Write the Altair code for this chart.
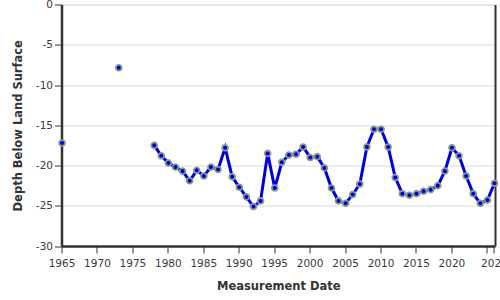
import altair as alt
import pandas as pd

years = [1965, 1973, 1978, 1979, 1980, 1981, 1982, 1983, 1984, 1985, 1986, 1987,
         1988, 1989, 1990, 1991, 1992, 1993, 1994, 1995, 1996, 1997, 1998, 1999,
         2000, 2001, 2002, 2003, 2004, 2005, 2006, 2007, 2008, 2009, 2010, 2011,
         2012, 2013, 2014, 2015, 2016, 2017, 2018, 2019, 2020, 2021, 2022, 2023,
         2024, 2025, 2026]
depths = [-17.2, -7.85, -17.5, -18.8, -19.7, -20.2, -20.7, -21.9, -20.6, -21.3, -20.2, -20.5,
          -17.8, -21.4, -22.7, -23.9, -25.1, -24.4, -18.5, -22.8, -19.6, -18.7, -18.6, -17.7,
          -19.0, -18.9, -20.3, -22.8, -24.4, -24.7, -23.6, -22.3, -17.7, -15.5, -15.5, -17.7,
          -21.5, -23.5, -23.7, -23.5, -23.2, -23.0, -22.5, -20.7, -17.8, -18.8, -21.3, -23.5,
          -24.7, -24.3, -22.2]
segments = [0, 1] + [2] * (len(years) - 2)
x_ticks = [1965, 1970, 1975, 1980, 1985, 1990, 1995, 2000, 2005, 2010, 2015, 2020, 2025, 2026]
y_ticks = [0, -5, -10, -15, -20, -25, -30]

df = pd.DataFrame({
    "year": [y + 0.08 for y in years],
    "depth": depths,
    "segment": segments,
})

xscale = alt.Scale(domain=[1965, 2026.15], nice=False, zero=False)
yscale = alt.Scale(domain=[-30, 0], nice=False)

xaxis = alt.Axis(values=x_ticks, title="Measurement Date",
                 labelExpr="datum.value == 2025 ? '' : '' + datum.value",
                 grid=False, domainColor="#333", domainWidth=2.5, tickColor="#333",
                 tickSize=7, labelFontSize=10.5, labelColor="#3a3a3a", labelPadding=5,
                 titleFontSize=11.5, titleFontWeight="bold", titleColor="#333",
                 titlePadding=12, labelOverlap=False, labelFlush=False)
yaxis = alt.Axis(values=y_ticks, title="Depth Below Land Surface",
                 labelExpr="'' + datum.value",
                 grid=True, gridColor="#dddddd", domainColor="#333", domainWidth=2.5,
                 tickColor="#333", tickSize=7, labelFontSize=10.5, labelColor="#3a3a3a",
                 labelPadding=2,
                 titleFontSize=11.5, titleFontWeight="bold", titleColor="#333",
                 titlePadding=12)
yaxis_right = alt.Axis(orient="right", labels=False, ticks=False, grid=False, title=None,
                       domainColor="#333", domainWidth=2)

base = alt.Chart(df)
line = base.mark_line(color="#0000dd", strokeWidth=3).encode(
    x=alt.X("year:Q", scale=xscale, axis=xaxis),
    y=alt.Y("depth:Q", scale=yscale, axis=yaxis),
    detail="segment:N",
)
points = base.mark_point(filled=True, fill="#0000dd", stroke="#8a9c8c", strokeWidth=1.8,
                         size=34, opacity=1).encode(
    x=alt.X("year:Q", scale=xscale, axis=xaxis),
    y=alt.Y("depth:Q", scale=yscale, axis=yaxis_right),
)

chart = alt.layer(line, points).resolve_axis(y="independent").properties(
    width=433.5, height=241.5,
    autosize=alt.AutoSizeParams(type="none"),
    padding={"left": 61.5, "top": 4.5, "right": 5, "bottom": 54},
).configure_view(stroke=None).configure(font="DejaVu Sans")

chart.save("out.html", embed_options={"renderer": "svg", "actions": False})
